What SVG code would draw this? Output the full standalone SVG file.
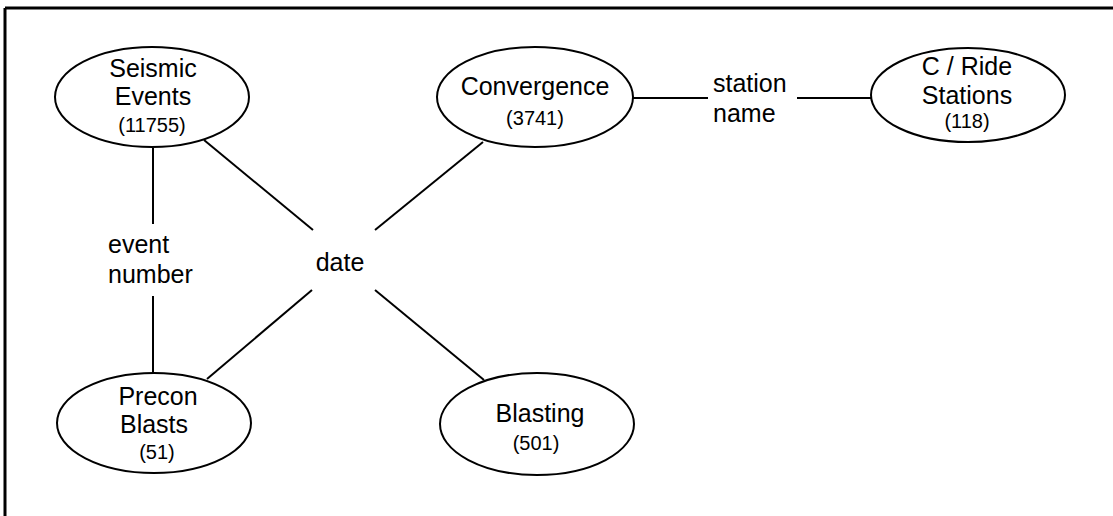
<svg xmlns="http://www.w3.org/2000/svg" width="1113" height="516" viewBox="0 0 1113 516">
<style>
.n{fill:#fff;stroke:#000;stroke-width:2}
.c line{stroke:#000;stroke-width:2}
text{font-family:"Liberation Sans",Arial,sans-serif;fill:#000}
.t{font-size:25px;text-anchor:middle}
.s{font-size:20px;text-anchor:middle}
.l{font-size:25px}
</style>
<rect width="1113" height="516" fill="#fff"/>
<g id="frame" stroke="#000" stroke-width="3" fill="none">
<line x1="5" y1="8" x2="1113" y2="8"/>
<line x1="5" y1="8" x2="5" y2="516"/>
</g>
<g id="connectors" class="c">
<line x1="153" y1="148" x2="153" y2="224"/>
<line x1="153" y1="296" x2="153" y2="373"/>
<line x1="204" y1="140" x2="313" y2="230"/>
<line x1="483" y1="142" x2="375" y2="230"/>
<line x1="312" y1="290" x2="207" y2="379"/>
<line x1="375" y1="290" x2="484" y2="380"/>
<line x1="632" y1="98" x2="708" y2="98"/>
<line x1="797" y1="98" x2="872" y2="98"/>
</g>
<g id="labels">
<text class="l" x="108" y="253">event</text>
<text class="l" x="108" y="283">number</text>
<text class="t" x="340" y="271">date</text>
<text class="l" x="713" y="92">station</text>
<text class="l" x="713" y="122">name</text>
</g>
<g id="seismic">
<ellipse class="n" cx="152" cy="97" rx="97" ry="50"/>
<text class="t" x="153" y="77">Seismic</text>
<text class="t" x="153" y="105">Events</text>
<text class="s" x="152" y="132">(11755)</text>
</g>
<g id="convergence">
<ellipse class="n" cx="535" cy="97" rx="98" ry="50"/>
<text class="t" x="535" y="95">Convergence</text>
<text class="s" x="535" y="125">(3741)</text>
</g>
<g id="cride">
<ellipse class="n" cx="968" cy="95" rx="97" ry="47"/>
<text class="t" x="967" y="75">C / Ride</text>
<text class="t" x="967" y="104">Stations</text>
<text class="s" x="967" y="128">(118)</text>
</g>
<g id="precon">
<ellipse class="n" cx="154" cy="423" rx="97" ry="50"/>
<text class="t" x="158" y="405">Precon</text>
<text class="t" x="154" y="433">Blasts</text>
<text class="s" x="157" y="459">(51)</text>
</g>
<g id="blasting">
<ellipse class="n" cx="537" cy="424" rx="97" ry="51"/>
<text class="t" x="540" y="422">Blasting</text>
<text class="s" x="536" y="450">(501)</text>
</g>
</svg>
